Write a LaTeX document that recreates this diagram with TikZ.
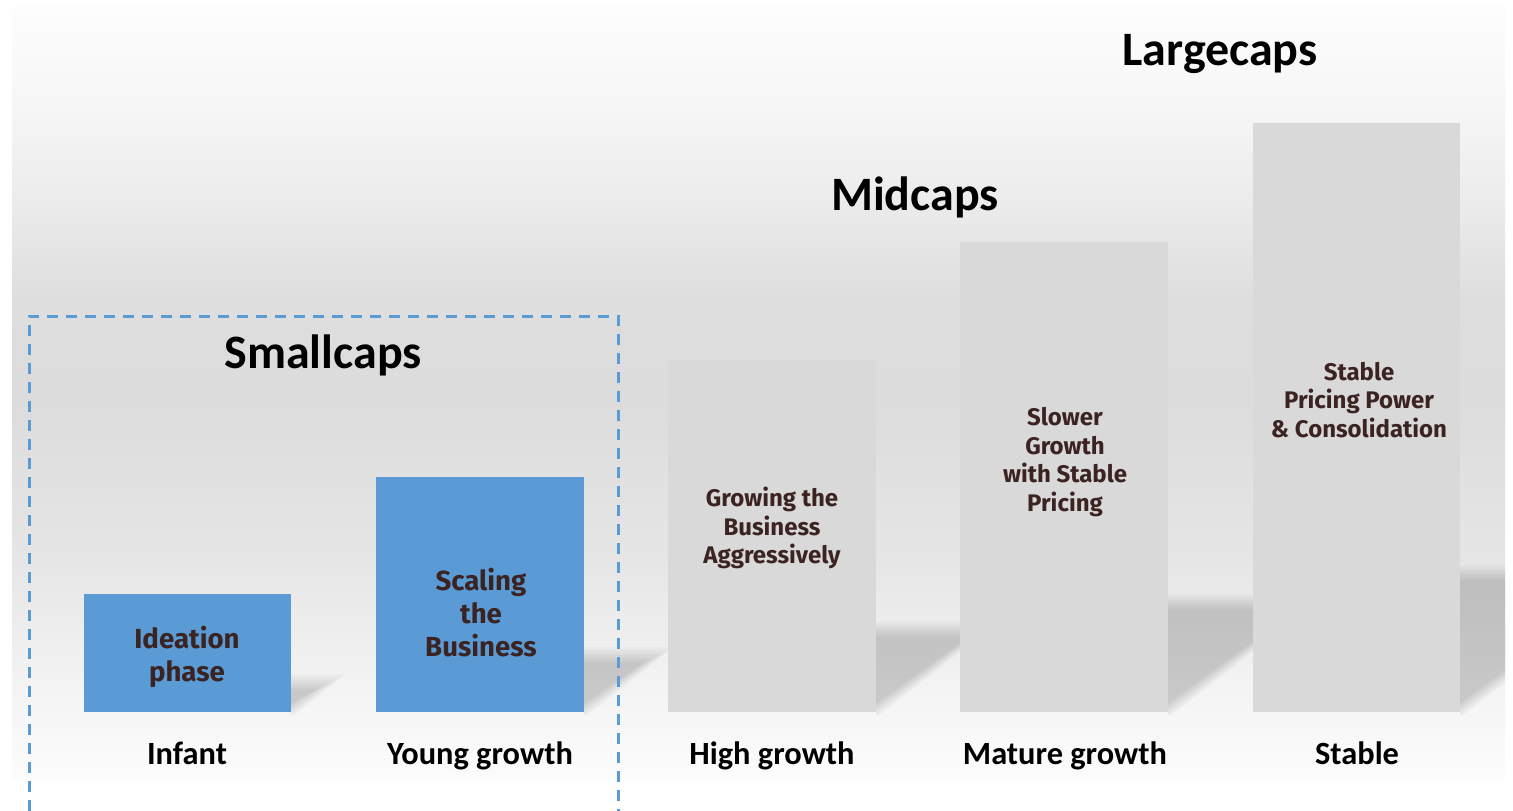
\documentclass[tikz,border=0pt]{standalone}
\usepackage{fontspec}
\setmainfont{Carlito}
\newfontfamily\barfont{Fira Sans}
\definecolor{bluebar}{HTML}{5B9BD5}
\definecolor{graybar}{HTML}{D9D9D9}
\definecolor{bartext}{HTML}{3B2322}
\definecolor{bgA}{HTML}{FCFCFC}
\definecolor{bgB}{HTML}{F5F5F5}
\definecolor{bgC}{HTML}{E6E6E6}
\definecolor{bgD}{HTML}{DCDCDC}
\definecolor{bgE}{HTML}{DEDEDE}
\definecolor{bgF}{HTML}{ECECEC}
\definecolor{bgG}{HTML}{F7F7F7}
\definecolor{bgH}{HTML}{FDFDFD}
\pgfdeclareverticalshading{bgshade}{100bp}{color(0bp)=(bgA); color(25bp)=(bgA); color(30bp)=(bgB); color(39bp)=(bgC); color(49.5bp)=(bgD); color(56bp)=(bgE); color(62.5bp)=(bgF); color(69bp)=(bgG); color(75bp)=(bgH); color(100bp)=(bgH)}
\tikzset{
  bartxt/.style={align=center, text=bartext, font=\barfont\bfseries\fontsize{12}{14.2}\selectfont},
  bigtxt/.style={align=center, text=bartext, font=\barfont\bfseries\fontsize{13.8}{16.5}\selectfont},
  stagelabel/.style={anchor=base, font=\bfseries\fontsize{16.2}{19}\selectfont, text=black},
  captitle/.style={anchor=base, font=\bfseries\fontsize{24}{28}\selectfont, text=black},
  bluefill/.style={fill=bluebar},
  grayfill/.style={fill=graybar},
  smallbox/.style={draw=bluebar, line width=1.5pt, dash pattern=on 5.5pt off 4pt},
}
\newcommand{\barshadow}[3]{% R, B, h
  \begin{scope}
    \clip (#1,#2+2) rectangle (1505,#2-#3-20);
    \foreach \d in {-8,-6,...,8}{
      \fill[black, opacity=0.02]
        ({#1-2}, {#2+\d}) -- ({#1-2}, {#2-#3-\d}) -- ({#1+1.3*(#3+1.5*\d)}, {#2-#3-\d}) -- cycle;
    }
  \end{scope}
}
\begin{document}
\begin{tikzpicture}[x=0.5pt, y=-0.5pt]
\useasboundingbox (0,0) rectangle (1513,810);
\fill[white] (0,0) rectangle (1513,810);
\shade[shading=bgshade] (12,5) rectangle (1505,778);

% shadows
\barshadow{291}{712}{30}
\barshadow{584}{712}{57}
\barshadow{876}{712}{83}
\barshadow{1168}{712}{110}
\barshadow{1460}{712}{139}

% bars
\fill[bluefill] (84,594) rectangle (291,712);
\fill[bluefill] (376,477) rectangle (584,712);
\fill[grayfill] (668,360) rectangle (876,712);
\fill[grayfill] (960,242) rectangle (1168,712);
\fill[grayfill] (1253,123) rectangle (1460,712);

% bar texts
\node[bigtxt] (ideation) at (187,657) {Ideation\\phase};
\node[bigtxt] (scaling) at (481,613) {Scaling\\the\\Business};
\node[bartxt] (growing) at (772,528) {Growing the\\Business\\Aggressively};
\node[bartxt] (slower) at (1065,462) {Slower\\Growth\\with Stable\\Pricing};
\node[bartxt] (stabletxt) at (1359,400) {Stable\\Pricing Power\\\& Consolidation};

% stage labels
\node[stagelabel] (infant) at (187,764) {Infant};
\node[stagelabel] (young) at (480,764) {Young growth};
\node[stagelabel] (high) at (772,764) {High growth};
\node[stagelabel] (mature) at (1065,764) {Mature growth};
\node[stagelabel] (stable) at (1357,764) {Stable};

% titles
\node[captitle] (small) at (323,368) {Smallcaps};
\node[captitle] (mid) at (915,210) {Midcaps};
\node[captitle] (large) at (1220,65) {Largecaps};

% dashed smallcaps box
\draw[smallbox] (29,830) -- (29,316) -- (618,316) -- (618,830);
\end{tikzpicture}
\end{document}
